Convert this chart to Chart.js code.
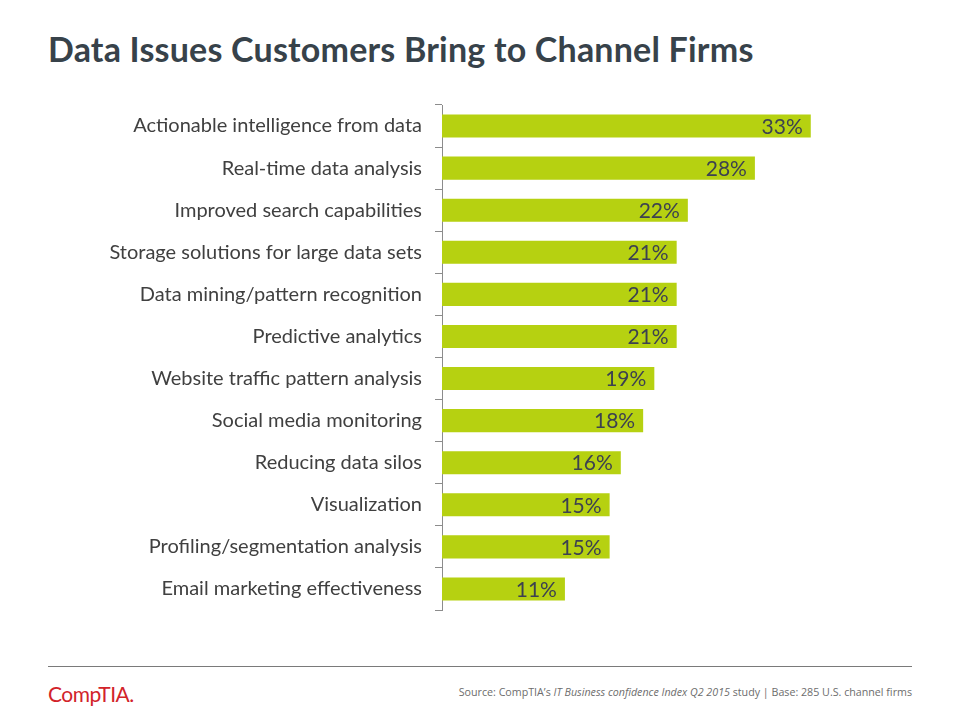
<!DOCTYPE html>
<html>
<head>
<meta charset="utf-8">
<script src="https://cdn.jsdelivr.net/npm/chart.js@4/dist/chart.umd.min.js"></script>
<style>
  body { margin: 0; background: #fff; width: 960px; height: 720px; position: relative; overflow: hidden; }
  h1 { position: absolute; left: 48px; top: 28px; margin: 0; font: bold 34px Lato, "Open Sans", sans-serif; color: #37424a; letter-spacing: 0.2px; }
  #chart { position: absolute; left: 0; top: 80px; }
  .rule { position: absolute; left: 48px; top: 666px; width: 864px; height: 1px; background: #7a7a7a; }
  .logo { position: absolute; left: 48px; top: 681px; font: 21px Lato, sans-serif; color: #d2232a; letter-spacing: -0.5px; }
  .source { position: absolute; right: 48px; top: 685px; font: 10.7px "Open Sans", sans-serif; color: #6d6d6d; }
</style>
</head>
<body>
<h1>Data Issues Customers Bring to Channel Firms</h1>
<canvas id="chart" width="960" height="555"></canvas>
<div class="rule"></div>
<div class="logo">CompTIA.</div>
<div class="source">Source: CompTIA’s <i>IT Business confidence Index Q2 2015</i> study | Base: 285 U.S. channel firms</div>
<script>
const categories = [
  'Actionable intelligence from data',
  'Real-time data analysis',
  'Improved search capabilities',
  'Storage solutions for large data sets',
  'Data mining/pattern recognition',
  'Predictive analytics',
  'Website traffic pattern analysis',
  'Social media monitoring',
  'Reducing data silos',
  'Visualization',
  'Profiling/segmentation analysis',
  'Email marketing effectiveness'
];
const values = [33, 28, 22, 21, 21, 21, 19, 18, 16, 15, 15, 11];

// draws the value inside the end of each bar
const valueLabels = {
  id: 'valueLabels',
  afterDatasetsDraw(chart) {
    const ctx = chart.ctx;
    const meta = chart.getDatasetMeta(0);
    ctx.save();
    ctx.font = '21px Lato, sans-serif';
    ctx.fillStyle = '#3c4150';
    ctx.textAlign = 'right';
    ctx.textBaseline = 'middle';
    meta.data.forEach((bar, i) => {
      ctx.fillText(values[i] + '%', bar.x - 8, bar.y + 1);
    });
    ctx.restore();
  }
};

new Chart(document.getElementById('chart'), {
  type: 'bar',
  data: {
    labels: categories,
    datasets: [{
      data: values,
      backgroundColor: '#b6d111',
      barPercentage: 0.55,
      categoryPercentage: 1
    }]
  },
  options: {
    indexAxis: 'y',
    responsive: false,
    animation: false,
    layout: { padding: { top: 6, bottom: 9, right: 71, left: 0 } },
    plugins: { legend: { display: false }, tooltip: { enabled: false } },
    scales: {
      x: {
        min: 0, max: 40,
        display: false
      },
      y: {
        afterFit(scale) { scale.width = 442; },
        border: { color: '#8c8c8c', width: 1 },
        grid: { drawOnChartArea: false, tickLength: 7, color: '#8c8c8c', offset: true },
        ticks: { padding: 13, color: '#404040', font: { family: 'Lato', size: 20 } }
      }
    }
  },
  plugins: [valueLabels]
});
</script>
</body>
</html>
